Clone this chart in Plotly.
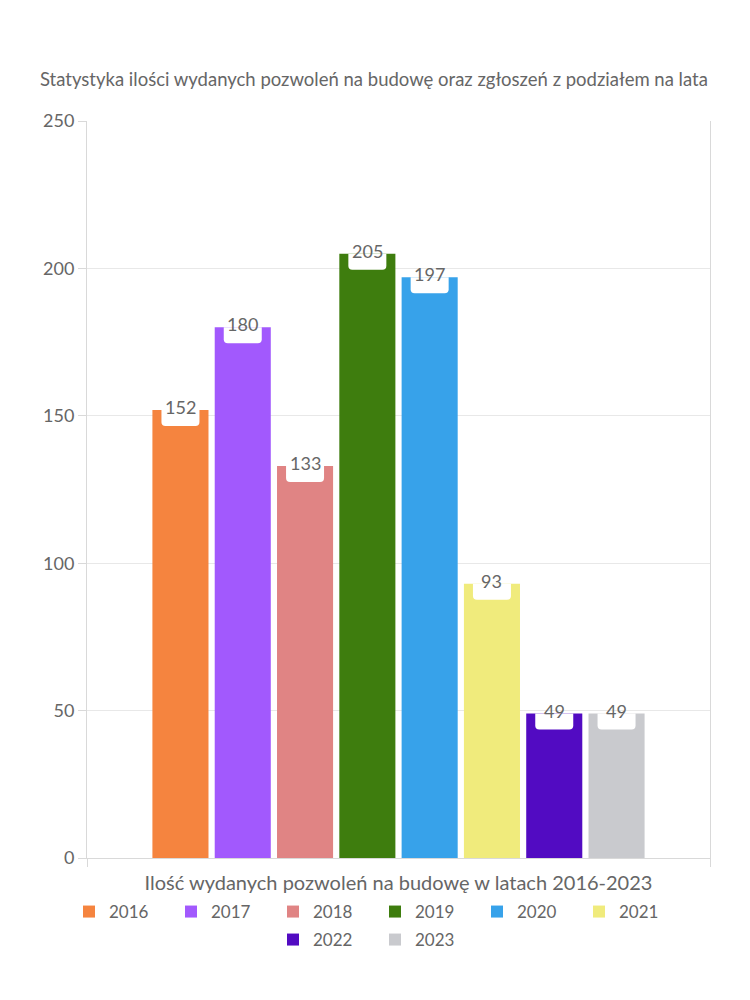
import plotly.graph_objects as go

years = ["2016", "2017", "2018", "2019", "2020", "2021", "2022", "2023"]
values = [152, 180, 133, 205, 197, 93, 49, 49]
colors = ["#F5843F", "#A259FD", "#E08484", "#3E7D0E", "#37A2EA", "#F0EB7C", "#520BC2", "#C9CACE"]
category = "Ilość wydanych pozwoleń na budowę w latach 2016-2023"
title = "Statystyka ilości wydanych pozwoleń na budowę oraz zgłoszeń z podziałem na lata"

FONT = "Lato"
GREY = "#666666"

fig = go.Figure()
n = len(years)
bargap = 0.2
slot = (1 - bargap) / n
shapes = []
annotations = []
for i, (yr, v, c) in enumerate(zip(years, values, colors)):
    fig.add_trace(go.Bar(
        x=[0], y=[v], name=yr, marker=dict(color=c, line=dict(width=0)),
        legend="legend" if i < 6 else "legend2", hoverinfo="skip",
    ))
    xc = -0.5 + bargap / 2 + slot * (i + 0.5)
    shapes.append(dict(
        type="path", xref="x", yref="y", xsizemode="pixel", ysizemode="pixel",
        xanchor=xc, yanchor=v,
        path="M-19,0 L19,0 L19,-12 Q19,-16 15,-16 L-15,-16 Q-19,-16 -19,-12 Z",
        fillcolor="white", line=dict(width=0), layer="above",
    ))
    annotations.append(dict(
        x=xc, y=v, xref="x", yref="y", text=str(v), showarrow=False,
        yanchor="middle", yshift=3, font=dict(family=FONT, size=18, color=GREY),
    ))

legend_common = dict(orientation="h", x=0.5, xanchor="center", xref="container",
                     yanchor="middle", yref="container", entrywidth=57,
                     font=dict(family=FONT, size=17, color=GREY), traceorder="normal")

fig.update_layout(
    width=750, height=1000,
    margin=dict(l=87, r=40, t=121, b=142),
    paper_bgcolor="white", plot_bgcolor="white",
    barmode="group", bargap=bargap, bargroupgap=0.1,
    font=dict(family=FONT, color=GREY),
    title=dict(text=title, x=40 / 750, xanchor="left", xref="container",
               y=1 - 80 / 1000, yanchor="middle", yref="container",
               font=dict(family=FONT, size=18.5, color=GREY)),
    xaxis=dict(type="linear", range=[-0.5, 0.5], tickvals=[-0.5, 0.5], showticklabels=False,
               ticks="outside", ticklen=8, tickcolor="#d9d9d9", showgrid=False,
               showline=True, linecolor="#d9d9d9", zeroline=False, automargin=False,
               title=dict(text=category, standoff=10, font=dict(family=FONT, size=20, color=GREY))),
    yaxis=dict(range=[0, 250], dtick=50, ticks="outside", ticklen=8, tickcolor="#d9d9d9",
               showgrid=True, gridcolor="#e8e8e8", showline=True, linecolor="#d9d9d9",
               mirror=True, zeroline=False, automargin=False,
               tickfont=dict(family=FONT, size=18, color=GREY)),
    legend=dict(y=1 - 912 / 1000, **legend_common),
    legend2=dict(y=1 - 940 / 1000, **legend_common),
    shapes=shapes, annotations=annotations,
)

fig.write_html("out.html")
